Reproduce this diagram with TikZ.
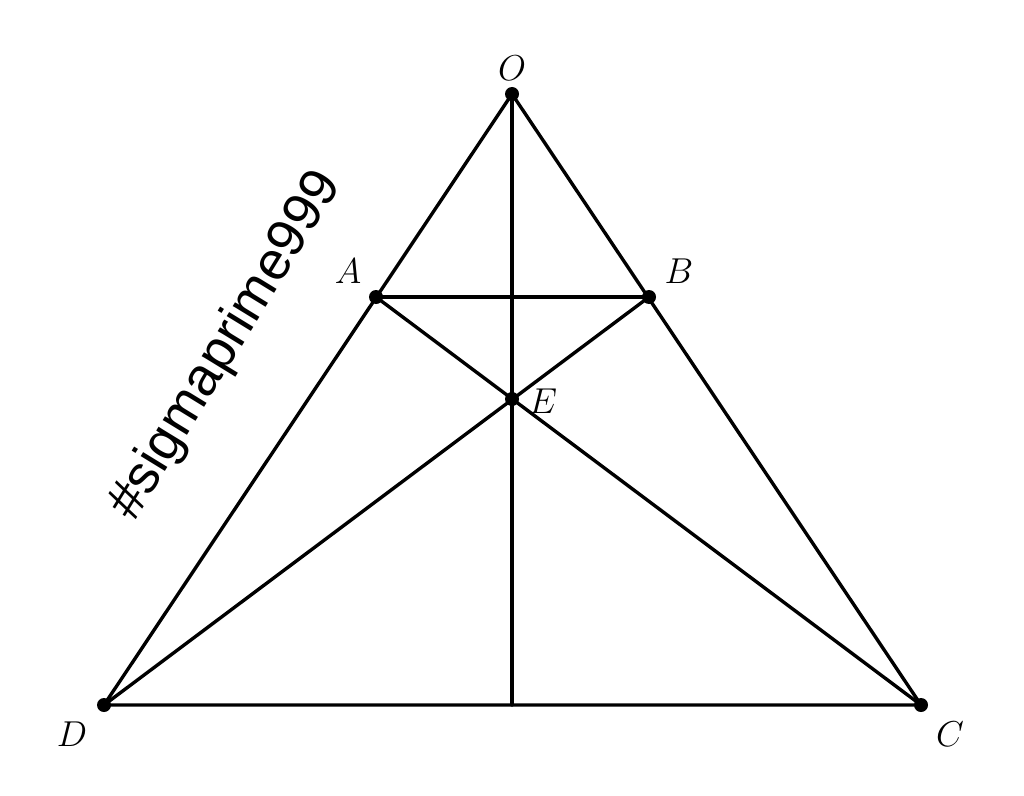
\documentclass[tikz,border=0pt]{standalone}
\usepackage{fontspec}
\usepackage{amsmath}
\newfontfamily\markfont{Liberation Sans}

\begin{document}
\begin{tikzpicture}[x=0.4pt, y=0.4pt,
    edge/.style={line width=1.35pt, line cap=round},
    dot/.style={circle, fill=black, inner sep=0pt, minimum size=5.6pt},
    lbl/.style={font=\fontsize{14.4}{17}\selectfont}]
\useasboundingbox (0,0) rectangle (1024,795);
% points
\node[dot] (O) at (512,701) {};
\node[dot] (A) at (376,498) {};
\node[dot] (B) at (649,498) {};
\node[dot] (E) at (512,396) {};
\node[dot] (D) at (104,90) {};
\node[dot] (C) at (921,90) {};
\coordinate (F) at (512,90);
% segments
\draw[edge] (O.center) -- (D.center) -- (C.center) -- cycle;
\draw[edge] (A.center) -- (B.center);
\draw[edge] (A.center) -- (C.center);
\draw[edge] (B.center) -- (D.center);
\draw[edge] (O.center) -- (F);
% labels
\node[lbl] at (512,727) {$O$};
\node[lbl] at (348,524) {$A$};
\node[lbl] at (679,524) {$B$};
\node[lbl] at (543,394) {$E$};
\node[lbl] at (72,61) {$D$};
\node[lbl] at (950,61) {$C$};
% watermark
\node[rotate=58.5, font=\markfont\fontsize{21.5}{25}\selectfont] (mark) at (226,449) {\#sigmaprime999};
\end{tikzpicture}
\end{document}
